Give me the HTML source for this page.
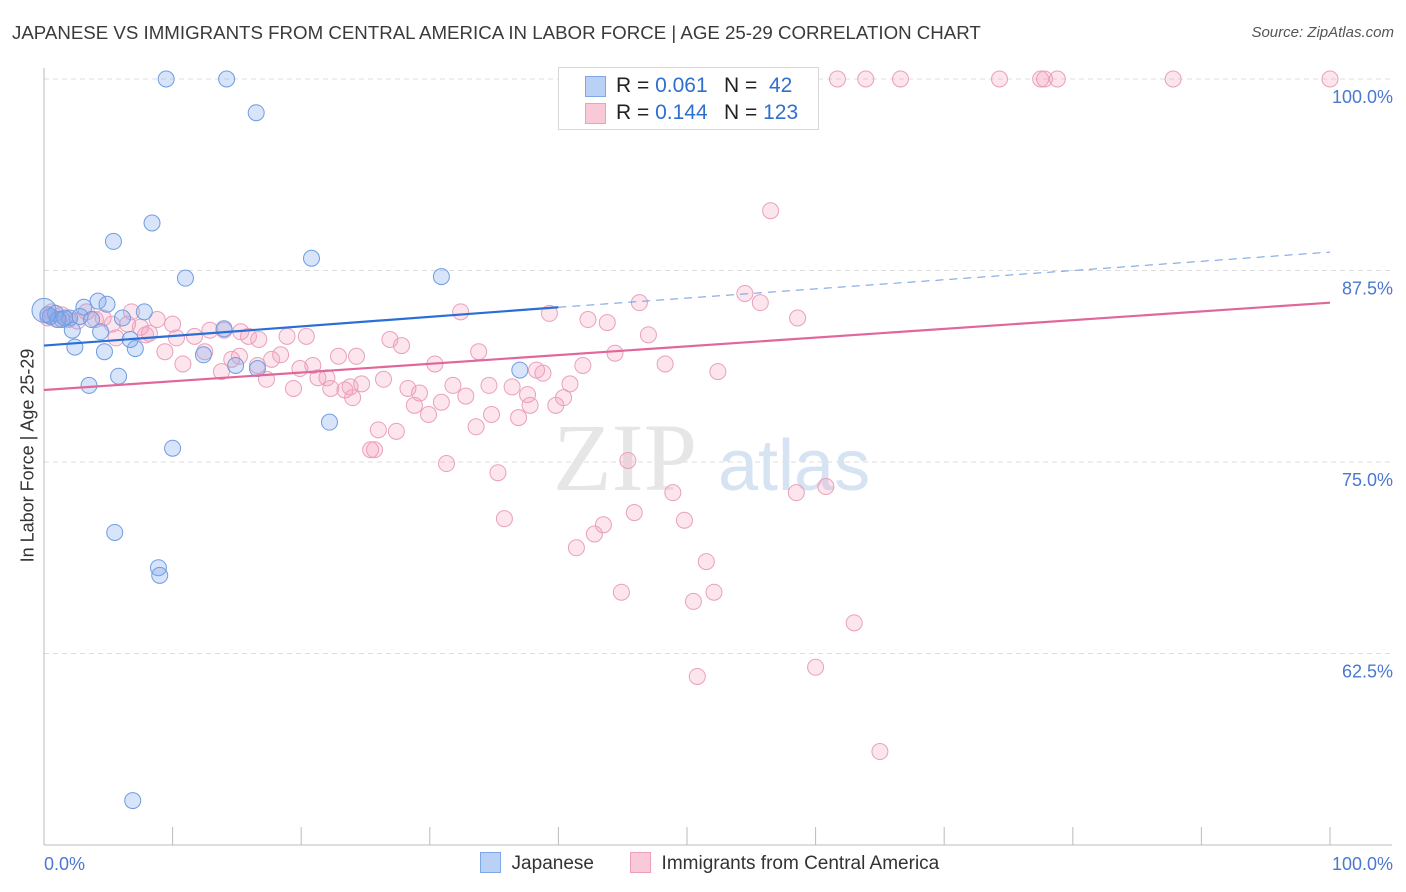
<!DOCTYPE html>
<html><head><meta charset="utf-8"><style>
body{margin:0;background:#fff;font-family:"Liberation Sans",sans-serif;}
#wrap{position:relative;width:1406px;height:892px;overflow:hidden;}
.t{position:absolute;white-space:nowrap;}
</style></head><body>
<div id="wrap">
<div class="t" style="left:12px;top:22px;font-size:18.7px;color:#3a3a3a;">JAPANESE VS IMMIGRANTS FROM CENTRAL AMERICA IN LABOR FORCE | AGE 25-29 CORRELATION CHART</div>
<div class="t" style="right:12px;top:24px;font-size:15px;color:#555;font-style:italic;">Source: ZipAtlas.com</div>
<svg id="svg" width="1406" height="892" style="position:absolute;left:0;top:0"></svg>
</div>
<script>
const yTicks=[100,87.5,75,62.5];
const yTickLabels=["100.0%","87.5%","75.0%","62.5%"];
const xEndLabels=["0.0%","100.0%"];
const jpX=[9.5,14.2,16.5,8.4,5.4,11,20.8,30.9,0,0.5,0.9,1.4,2,3.1,4.2,4.9,7.8,6.1,2.8,2.2,2.4,4.7,7.1,6.7,14,12.4,14.9,16.6,3.5,5.8,22.2,10,37,5.5,8.9,9,6.9,1.6,1.1,3.7,4.4,0.3];
const jpY=[100,100,97.8,90.6,89.4,87,88.3,87.1,84.9,84.5,84.7,84.3,84.4,85.1,85.5,85.3,84.8,84.4,84.5,83.6,82.5,82.2,82.4,83,83.7,82,81.3,81.1,80,80.6,77.6,75.9,81,70.4,68.1,67.6,52.9,84.4,84.3,84.3,83.5,84.6];
const imX=[57.4,61.7,63.9,66.6,74.3,77.5,77.8,78.8,87.8,100,56.5,54.5,55.7,58.6,46.3,39.3,32.4,42.3,43.8,47,44.4,48.3,52.4,41.9,40.9,40.4,39.8,38.8,38.3,37.6,37.8,36.9,36.4,34.6,34.8,33.6,32.8,31.8,30.9,29.9,28.8,28.3,29.2,30.4,33.8,26.9,27.8,26.4,24.3,23.8,24,24.7,23.4,22.3,22.9,22,21.3,20.9,19.9,19.4,20.4,18.9,18.4,17.7,17.3,16.6,15.2,14.6,13.8,12.5,10.8,9.4,10.3,11.7,12.9,15.3,15.9,16.7,10,8.8,8.2,7.5,6.5,5.6,5.3,4.6,4,3.3,2.6,1.9,1,0.3,0.6,1.4,6.8,7.9,26,25.7,27.4,25.4,31.3,35.3,35.8,41.4,42.8,43.5,45.9,45.4,48.9,49.8,58.5,60.8,51.5,50.5,52.1,44.9,50.8,63,60,65,14];
const imY=[100,100,100,100,100,100,100,100,100,100,91.4,86,85.4,84.4,85.4,84.7,84.8,84.3,84.1,83.3,82.1,81.4,80.9,81.3,80.1,79.2,78.7,80.8,81,79.4,78.7,77.9,79.9,80,78.1,77.3,79.3,80,78.9,78.1,78.7,79.8,79.5,81.4,82.2,83,82.6,80.4,81.9,79.9,79.2,80.1,79.7,79.8,81.9,80.5,80.5,81.3,81.1,79.8,83.2,83.2,82,81.7,80.4,81.3,81.9,81.7,80.9,82.2,81.4,82.2,83.1,83.2,83.6,83.5,83.2,83,84,84.3,83.4,83.8,84,83.1,84,84.4,84.3,84.8,84.2,84.3,84.3,84.4,84.8,84.6,84.8,83.3,77.1,75.8,77,75.8,74.9,74.3,71.3,69.4,70.3,70.9,71.7,75.1,73,71.2,73,73.4,68.5,65.9,66.5,66.5,61,64.5,61.6,56.1,83.6];
const jpTrend=[[0,82.6],[40,85.1],[100,88.7]];
const imTrend=[[0,79.7],[100,85.4]];
const X0=44,X1=1330,YT=79,YB=845;
const xs=v=>X0+(X1-X0)*v/100;
const ys=v=>YT+(100-v)*(YB-YT)/50;
const svg=document.getElementById('svg');
const NS='http://www.w3.org/2000/svg';
function mk(tag,attrs){const e=document.createElementNS(NS,tag);for(const k in attrs)e.setAttribute(k,attrs[k]);svg.appendChild(e);return e;}
yTicks.forEach((t,i)=>{
 const g=mk('line',{x1:X0,x2:1392,y1:ys(t),y2:ys(t),stroke:'#dcdcdc','stroke-dasharray':'5,4'});
 
 
 const tx=mk('text',{x:1393,y:ys(t)+24,'text-anchor':'end','font-size':18,fill:'#4a78d0','font-family':'Liberation Sans, sans-serif'});
 tx.textContent=yTickLabels[i];
 
 
});
const ax=mk('line',{x1:X0,x2:X0,y1:68,y2:YB,stroke:'#bbb'});


const bx=mk('line',{x1:X0,x2:1392,y1:YB,y2:YB,stroke:'#bbb'});


for(let i=0;i<=10;i++){const tk=mk('line',{x1:xs(i*10),x2:xs(i*10),y1:YB,y2:YB-18,stroke:'#bbb'});
 
 }
[[0,'start'],[100,'end']].forEach((p,i)=>{const tx=mk('text',{x:i?1393:44,y:870,'text-anchor':p[1],'font-size':18,fill:'#4a78d0','font-family':'Liberation Sans, sans-serif'});tx.textContent=xEndLabels[i];
 
 });
const wm=mk('text',{x:553,y:490,'font-size':96,fill:'#e6e6e6','font-family':'Liberation Serif, serif'});wm.textContent='ZIP';


const wm2=mk('text',{x:718,y:490,'font-size':72,fill:'#d6e3f3','font-family':'Liberation Sans, sans-serif'});wm2.textContent='atlas';


imX.forEach((v,i)=>{const c=mk('circle',{cx:xs(v),cy:ys(imY[i]),r:8,fill:'rgba(244,160,190,0.28)',stroke:'#eaa0bb','stroke-width':1});
 
 });
jpX.forEach((v,i)=>{const c=mk('circle',{cx:xs(v),cy:ys(jpY[i]),r:i==8?12:8,fill:'rgba(130,170,235,0.32)',stroke:'#6f9de2','stroke-width':1});
 
 });
const l1=mk('line',{x1:xs(jpTrend[0][0]),y1:ys(jpTrend[0][1]),x2:xs(jpTrend[1][0]),y2:ys(jpTrend[1][1]),stroke:'#2a6fd6','stroke-width':2.2});


const l2=mk('line',{x1:xs(jpTrend[1][0]),y1:ys(jpTrend[1][1]),x2:xs(jpTrend[2][0]),y2:ys(jpTrend[2][1]),stroke:'#6e9be0','stroke-width':1,'stroke-dasharray':'8,6'});


const l3=mk('line',{x1:xs(imTrend[0][0]),y1:ys(imTrend[0][1]),x2:xs(imTrend[1][0]),y2:ys(imTrend[1][1]),stroke:'#e0679a','stroke-width':2.2});


</script>
<div class="t" style="left:-92px;top:445px;font-size:18px;color:#333;transform:rotate(-90deg);width:240px;text-align:center;">In Labor Force | Age 25-29</div>
<div style="position:absolute;left:558px;top:67px;width:259px;height:61px;background:#fff;border:1px solid #d8d8d8;font-size:21px;color:#222;">
 <div style="position:absolute;left:26px;top:8px;width:19px;height:19px;background:#b9d1f5;border:1px solid #7fa6e6;"></div>
 <div class="t" style="left:57px;top:6px;">R = <span style="color:#2f6fd0">0.061</span></div>
 <div class="t" style="left:165px;top:6px;">N = <span style="color:#2f6fd0">&nbsp;42</span></div>
 <div style="position:absolute;left:26px;top:35px;width:19px;height:19px;background:#f9c9d8;border:1px solid #eca0bb;"></div>
 <div class="t" style="left:57px;top:33px;">R = <span style="color:#2f6fd0">0.144</span></div>
 <div class="t" style="left:165px;top:33px;">N = <span style="color:#2f6fd0">123</span></div>
</div>
<div style="position:absolute;left:480px;top:852px;font-size:19px;color:#333;">
 <div style="position:absolute;left:0;top:0;white-space:nowrap;"><span style="display:inline-block;width:19px;height:19px;background:#b9d1f5;border:1px solid #7fa6e6;vertical-align:-4px;"></span>&nbsp;&nbsp;Japanese</div>
 <div style="position:absolute;left:150px;top:0;white-space:nowrap;"><span style="display:inline-block;width:19px;height:19px;background:#f9c9d8;border:1px solid #eca0bb;vertical-align:-4px;"></span>&nbsp;&nbsp;Immigrants from Central America</div>
</div>
</body></html>
